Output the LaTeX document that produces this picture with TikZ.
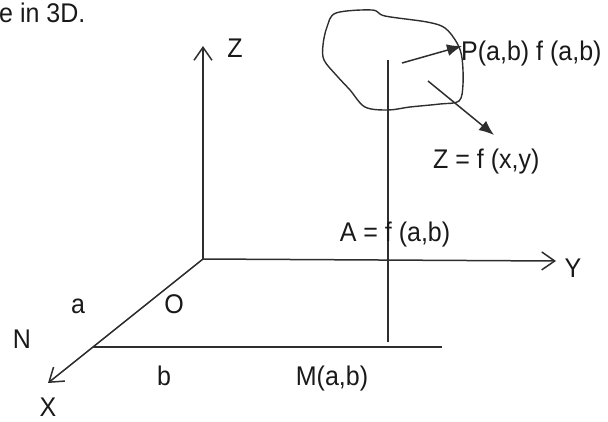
\documentclass[tikz,border=0pt]{standalone}
\usepackage{fontspec}
\setmainfont{Liberation Sans}
\usetikzlibrary{arrows.meta}
\begin{document}
\begin{tikzpicture}[x=1pt,y=-1pt,
  ln/.style={line width=1.5pt,draw=black!82},
  axis/.style={ln,-{Straight Barb[length=13pt,width=18pt,line width=1.5pt]}},
  fillarrow/.style={ln,-{Latex[length=15pt,width=12pt]}},
  lbl/.style={inner sep=0pt,anchor=base,font=\fontsize{25}{28}\selectfont,text=black!90,yscale=1.08},
  lblw/.style={lbl,anchor=base west}]
\useasboundingbox (0,0) rectangle (608,421);
% points
\coordinate (O) at (203,259);
\coordinate (Ztip) at (203,46);
\coordinate (Ytip) at (556,261);
\coordinate (Xtip) at (48,383);
\coordinate (Nj) at (93,347);
\coordinate (Mend) at (442,347);
\coordinate (Mtop) at (388,60);
\coordinate (Mbot) at (388,342);
\coordinate (A1) at (402,63);
\coordinate (P) at (462,46);
\coordinate (A2) at (428,81);
\coordinate (A2tip) at (494,135);
% axes
\draw[axis] (O) -- (Ztip);
\draw[axis] (O) -- (Ytip);
\draw[axis] (O) -- (Xtip);
\draw[ln] (Nj) -- (Mend);
\draw[ln] (Mtop) -- (Mbot);
% surface patch
\draw[ln,line width=1.4pt] plot[smooth cycle,tension=0.55] coordinates {
  (336,13) (372,10) (385,16) (427,22) (445,28) (457,43) (462,58)
  (463,84) (459,101) (440,104) (410,107) (388,110) (365,107)
  (350,90) (337,76) (324,60) (323,45) (327,27)};
\draw[fillarrow] (A1) -- (P);
\draw[fillarrow] (A2) -- (A2tip);
% labels
\node[lblw] (title) at (-1,22) {e in 3D.};
\node[lbl] (zl) at (235,57) {Z};
\node[lbl] (yl) at (573,277) {Y};
\node[lbl] (xl) at (48,416) {X};
\node[lbl] (nl) at (22,348) {N};
\node[lbl] (al) at (78,313) {a};
\node[lbl] (ol) at (174,313) {O};
\node[lbl] (bl) at (164,385) {b};
\node[lbl] (ml) at (332,385) {M(a,b)};
\node[lbl] (afl) at (395,241) {A = f (a,b)};
\node[lblw] (pl) at (461,60) {P(a,b) f (a,b)};
\node[lblw] (zfl) at (433,168) {Z = f (x,y)};
\end{tikzpicture}
\end{document}
